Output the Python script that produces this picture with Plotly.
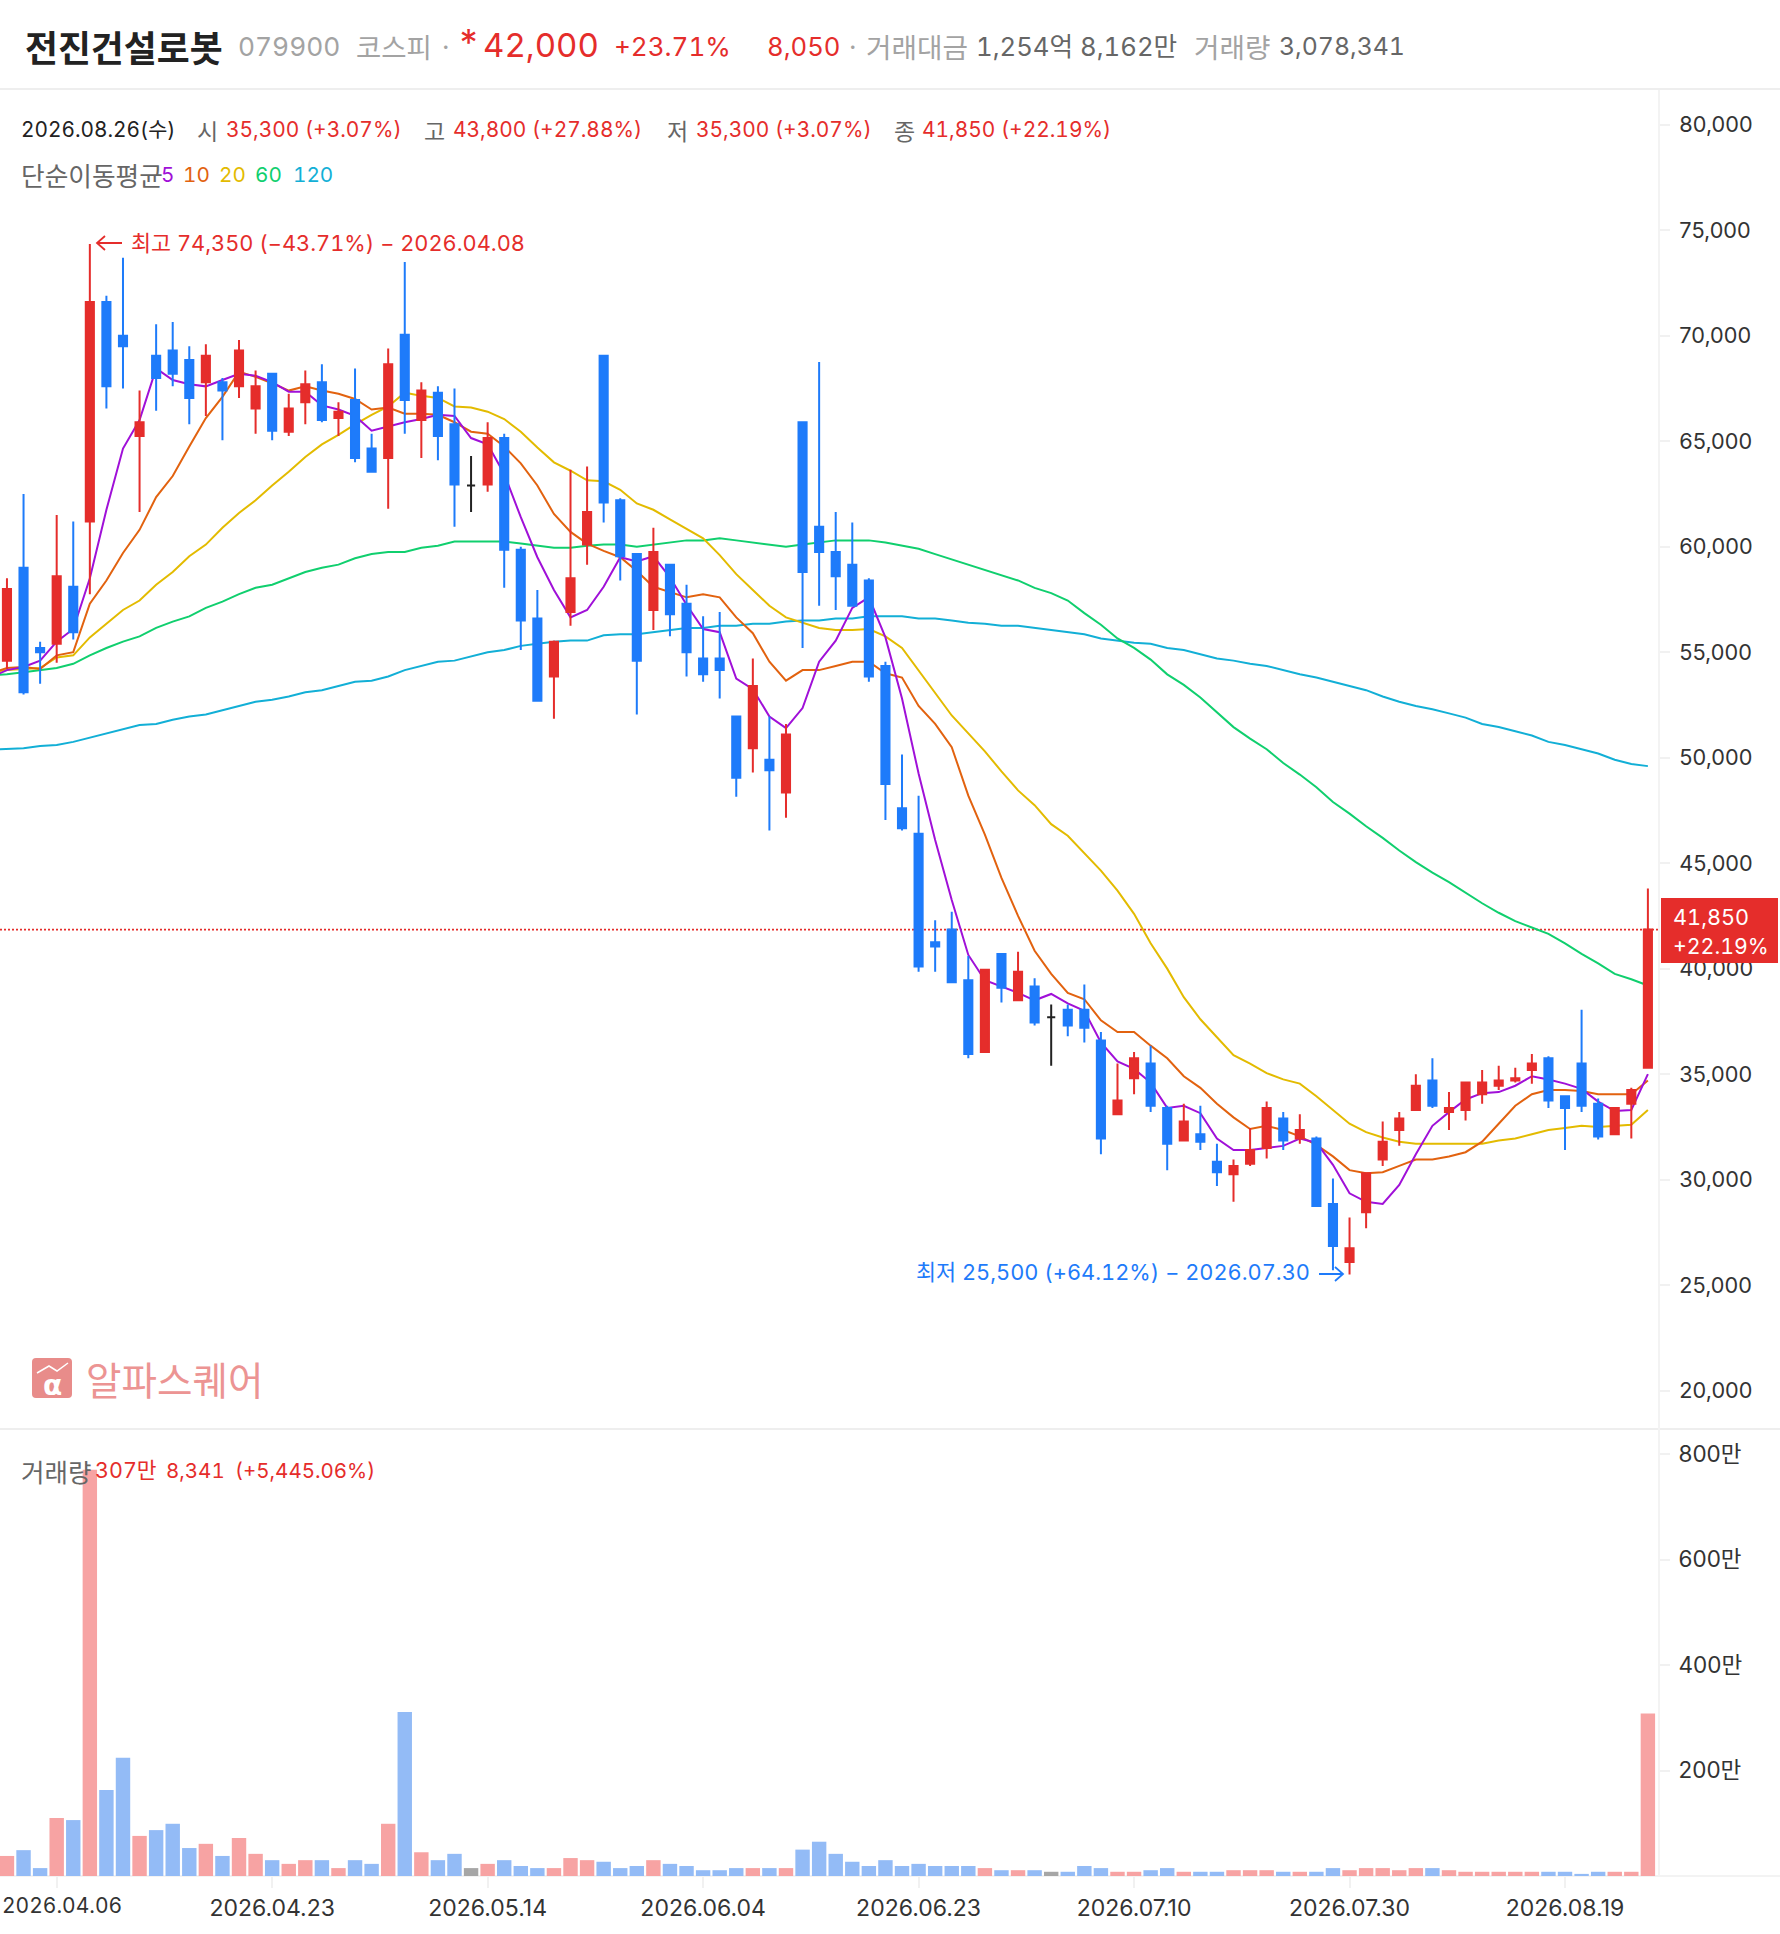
import plotly.graph_objects as go

dates = ["2026.03.31","2026.04.01","2026.04.02","2026.04.03","2026.04.06","2026.04.07","2026.04.08","2026.04.09","2026.04.10",
"2026.04.13","2026.04.14","2026.04.15","2026.04.16","2026.04.17","2026.04.20","2026.04.21","2026.04.22","2026.04.23","2026.04.24",
"2026.04.27","2026.04.28","2026.04.29","2026.04.30","2026.05.04","2026.05.06","2026.05.07","2026.05.08","2026.05.11","2026.05.12",
"2026.05.13","2026.05.14","2026.05.15","2026.05.18","2026.05.19","2026.05.20","2026.05.21","2026.05.22","2026.05.26","2026.05.27",
"2026.05.28","2026.05.29","2026.06.01","2026.06.02","2026.06.04","2026.06.05","2026.06.08","2026.06.09","2026.06.10","2026.06.11",
"2026.06.12","2026.06.15","2026.06.16","2026.06.17","2026.06.18","2026.06.19","2026.06.22","2026.06.23","2026.06.24","2026.06.25",
"2026.06.26","2026.06.29","2026.06.30","2026.07.01","2026.07.02","2026.07.03","2026.07.06","2026.07.07","2026.07.08","2026.07.09",
"2026.07.10","2026.07.13","2026.07.14","2026.07.15","2026.07.16","2026.07.20","2026.07.21","2026.07.22","2026.07.23","2026.07.24",
"2026.07.27","2026.07.28","2026.07.29","2026.07.30","2026.07.31","2026.08.03","2026.08.04","2026.08.05","2026.08.06","2026.08.07",
"2026.08.10","2026.08.11","2026.08.12","2026.08.13","2026.08.14","2026.08.18","2026.08.19","2026.08.20","2026.08.21","2026.08.24",
"2026.08.25","2026.08.26"]
candle_dates = dates[1:]

opens = [54600,59000,55200,55400,58100,61200,71600,70000,65250,69050,69300,68850,67800,67800,67600,66550,68200,65450,66850,67800,
66100,66950,64650,64200,70050,66000,67300,65800,62900,62950,65150,59850,56600,53850,56900,60100,69050,62200,59650,57000,
59150,57300,54700,54700,51950,50450,49900,48350,65900,60950,59750,59150,58400,54350,47600,46400,41250,41850,39450,36050,
40700,38500,39150,37700,38050,38050,36600,33100,34800,35500,33400,31850,32150,30850,30250,30750,31500,32900,31950,31950,
28850,26100,28450,30950,32350,33300,34700,33200,33300,34050,34450,34700,35200,35750,33950,35500,33600,32150,33600,35300]
highs = [58500,62500,55500,61500,61200,74350,71900,73700,67400,70550,70650,69500,69600,68000,69800,68350,68200,67250,68350,68650,
66850,68450,65350,69400,73500,67800,67600,67500,64300,65900,65350,60000,57950,55550,63650,63800,69050,62300,59650,60900,
59150,58200,56700,56900,51950,54700,51950,51600,65900,68750,61650,61150,58500,54550,50150,48200,42300,42700,40600,40000,
40700,40800,39550,38300,38300,39250,37000,35500,36050,36350,33500,33600,33500,31700,30950,32450,33700,33200,33100,32050,
30050,28200,30350,32750,33200,35000,35750,34150,34600,35200,35400,35300,35950,35850,33950,38050,33850,33400,34350,43800]
lows = [54200,53000,53500,54500,55600,57750,66550,67500,61650,66450,67600,65800,66200,65050,67050,65350,65050,65250,65800,65900,
65250,64000,63550,61800,65350,64200,64100,60950,61650,62600,58050,55100,52650,51850,56250,59150,61150,58400,52050,56050,
55750,53850,53600,52800,48150,49300,46550,47150,55200,57200,57000,57200,53600,47050,46550,39850,39850,39350,35750,36050,
38400,38500,37300,35400,36800,36500,31200,33100,34050,33200,30450,31850,31400,29700,28950,30650,31000,31400,31700,28750,
25700,25500,27700,30650,31600,33300,33400,32350,32800,33600,34250,34600,34550,33400,31400,33200,31900,32150,31950,35300]
closes = [58000,53100,55000,58600,55950,71600,67600,69500,65900,68000,68200,67050,69050,67400,69300,67600,65500,66550,67700,66000,
66400,64200,63550,68650,66950,67400,65250,62950,62900,65150,59850,56500,52700,55500,58500,61650,62100,59550,54600,59750,
56800,55000,53950,54150,49050,53400,49400,51100,58800,59750,58600,57200,53850,48750,46650,40100,41050,39350,35950,39950,
39100,39850,37450,37700,37300,37200,31950,33750,35750,33500,31700,32750,31800,30350,30650,31400,33400,31850,32350,28750,
26850,26750,30300,31800,32900,34450,33500,33400,34600,34600,34700,34800,35500,33750,33400,33500,32050,33400,34250,41850]

# moving averages: first value belongs to the session before the first candle (runs off the left edge)
ma5 = [53800,54150,54300,54600,55500,56100,58500,61750,64650,66000,68450,67900,67700,67600,67900,68200,68100,67800,67350,67350,66700,
66500,66200,65500,65700,65900,66050,66250,66200,65150,64850,63450,61400,59500,57950,56650,57000,58100,59500,59300,59550,
58550,57250,56100,55950,53750,53250,51950,51400,52350,54550,55550,57100,57600,55700,52800,49250,46100,43250,40650,39450,
39150,38850,38500,38800,38350,38000,36500,35600,35250,34600,33400,33500,33150,31950,31400,31400,31500,31600,31950,31750,
30700,29350,28950,28850,29750,31200,32550,33200,33800,34100,34150,34450,34900,34750,34550,34300,33700,33250,33300,35000]
ma10 = [54000,54250,54300,54200,54850,55000,57300,58400,59700,60800,62350,63350,64750,66100,67100,68300,68050,67750,67400,67600,67400,
67250,67000,66500,66600,66300,66300,66250,65900,65450,65350,64750,63950,62900,61550,60700,60150,59800,59500,58850,58100,
57850,57600,57750,57600,56650,55900,54550,53650,54150,54150,54350,54550,54550,54000,53800,52450,51600,50500,48200,46350,
44300,42500,40850,39750,38850,38550,37550,37000,37000,36350,35750,34900,34350,33600,32950,32400,32550,32350,32050,31650,
31100,30450,30300,30350,30650,30950,30950,31100,31300,31800,32650,33500,34050,34250,34250,34200,34050,34050,34050,34700]
ma20 = [54050,54150,54200,54250,54750,54850,55700,56350,57000,57450,58200,58800,59550,60100,60900,61600,62200,62900,63550,64250,64850,
65300,65800,66250,66650,67300,67150,67050,66650,66600,66400,66050,65450,64700,64000,63600,63150,63100,62700,62050,61750,
61300,60850,60400,59600,58700,57950,57200,56650,56400,56150,56050,56050,56100,55750,55200,54150,53050,52000,51150,50300,
49350,48450,47750,46850,46300,45450,44650,43700,42600,41200,40000,38650,37600,36750,35900,35500,35050,34750,34550,33950,
33300,32650,32250,32000,31800,31700,31700,31700,31700,31700,31850,31950,32150,32350,32450,32550,32500,32550,32600,33300]
ma60 = [53900,53950,54050,54150,54250,54450,54850,55200,55500,55750,56150,56450,56700,57100,57400,57750,58050,58200,58500,58800,59000,
59150,59450,59650,59750,59750,59950,60050,60250,60250,60250,60250,60150,60050,59950,59950,60050,60100,60100,60000,60100,
60200,60300,60300,60400,60300,60200,60100,60000,60100,60200,60300,60300,60300,60200,60050,59900,59650,59400,59150,58900,
58650,58400,58050,57800,57450,56850,56300,55650,55200,54650,53950,53450,52850,52150,51450,50900,50400,49750,49200,48600,
47900,47350,46750,46200,45600,45050,44550,44100,43600,43100,42650,42250,41950,41650,41200,40700,40250,39750,39500,39200]
ma120 = [50380,50400,50450,50550,50600,50750,50950,51150,51350,51550,51600,51800,51950,52050,52250,52450,52650,52750,52900,53100,53200,
53400,53600,53650,53850,54150,54350,54550,54600,54800,55000,55100,55300,55400,55500,55550,55550,55800,55850,55850,55950,
56050,56150,56150,56250,56250,56350,56350,56450,56500,56500,56600,56600,56700,56700,56700,56600,56600,56500,56400,56350,
56250,56250,56150,56050,55950,55850,55650,55550,55450,55400,55200,55100,54900,54700,54600,54450,54350,54150,53950,53800,
53600,53400,53200,52900,52650,52450,52300,52100,51900,51600,51450,51250,51050,50750,50600,50400,50200,49900,49700,49600]

volumes = [38,49,15,110,106,770,163,224,76,87,99,53,61,38,72,42,30,23,30,30,15,30,23,99,311,45,30,42,15,23,
30,19,15,15,34,30,27,15,19,30,23,19,11,11,15,15,15,15,50,65,42,27,19,30,19,23,19,19,19,15,
11,11,11,8,8,19,15,8,8,11,15,8,8,8,11,11,11,8,8,8,15,11,15,15,11,15,15,11,8,8,8,8,8,8,8,4,8,8,8,308]

price_ticks = [20000,25000,30000,35000,40000,45000,50000,55000,60000,65000,70000,75000,80000]
volume_ticks = [200,400,600,800]
volume_ticktext = ["200만","400만","600만","800만"]
date_ticks = ["2026.04.06","2026.04.23","2026.05.14","2026.06.04","2026.06.23","2026.07.10","2026.07.30","2026.08.19"]
date_ticktext = [""] + date_ticks[1:]  # the first label touches the page edge and is written as a left-anchored text

assert len(dates)==101 and all(len(a)==100 for a in (opens,highs,lows,closes,volumes)) and all(len(a)==101 for a in (ma5,ma10,ma20,ma60,ma120))

W, H = 1780, 1934
RED, BLUE = "#E52D2B", "#1E7BFA"
FONT = "Inter, 'Noto Sans CJK KR', sans-serif"
KR = "'Noto Sans CJK KR', sans-serif"
px = lambda x: x / W
py = lambda y: 1 - y / H

fig = go.Figure()
cols = {"5":"#A010D8","10":"#E2620F","20":"#E3BB00","60":"#10CF6E","120":"#12AFD6"}

def candle(idx, up, down):
    fig.add_trace(go.Candlestick(
        x=[candle_dates[i] for i in idx], open=[opens[i] for i in idx], high=[highs[i] for i in idx],
        low=[lows[i] for i in idx], close=[closes[i] for i in idx],
        increasing=dict(line=dict(color=up, width=2), fillcolor=up),
        decreasing=dict(line=dict(color=down, width=2), fillcolor=down),
        whiskerwidth=0, showlegend=False, xaxis="x", yaxis="y3", hoverinfo="skip"))

moving = [ma120, ma60, ma20, ma10, ma5]
for name, vals in zip(["120","60","20","10","5"], moving):
    fig.add_trace(go.Scatter(x=dates, y=vals, mode="lines", line=dict(color=cols[name], width=2),
                             showlegend=False, xaxis="x", yaxis="y", hoverinfo="skip"))
doji = [i for i in range(100) if opens[i] == closes[i]]
solid = [i for i in range(100) if opens[i] != closes[i]]
candle(solid, RED, BLUE)
candle(doji, "#222222", "#222222")
vol_colors = ["#F7A3A3" if c > o else "#93BBF6" if c < o else "#A6A6A6" for o, c in zip(opens, closes)]
fig.add_trace(go.Bar(x=candle_dates, y=volumes, marker=dict(color=vol_colors, line=dict(width=0)),
                     showlegend=False, xaxis="x2", yaxis="y2", hoverinfo="skip"))

notes, shapes = [], []
def txt(x, y, s, size, color, bold=False, family=FONT, anchor="left"):
    t = f"<span style=\"font-feature-settings:'tnum' 1\">{s}</span>"
    if bold:
        t = f"<b>{t}</b>"
    notes.append(dict(xref="paper", yref="paper", x=px(x), y=py(y), text=t, showarrow=False, xanchor=anchor, yanchor="middle",
                      font=dict(family=family, size=size, color=color), borderpad=0))
def hline(y, x0=0, x1=W, c="#EEEEEE", w=2):
    shapes.append(dict(type="line", xref="paper", yref="paper", x0=px(x0), x1=px(x1), y0=py(y), y1=py(y), line=dict(color=c, width=w), layer="below"))
def arrow(x0, x1, y, color):
    d = 8 if x1 > x0 else -8
    p = f"M{px(x0)},{py(y)} L{px(x1)},{py(y)} M{px(x1-d)},{py(y-7)} L{px(x1)},{py(y)} L{px(x1-d)},{py(y+7)}"
    shapes.append(dict(type="path", xref="paper", yref="paper", path=p, line=dict(color=color, width=1.8), layer="above"))

hline(89); hline(1429); hline(1876, c="#F3F3F3")
shapes.append(dict(type="line", xref="paper", yref="paper", x0=px(1659), x1=px(1659), y0=py(90), y1=py(1876), line=dict(color="#F3F3F3", width=2), layer="below"))
shapes.append(dict(type="line", xref="paper", yref="y", x0=0, x1=px(1659), y0=closes[-1], y1=closes[-1], line=dict(color=RED, width=1.6, dash="2px,2px"), layer="below"))
# last-price tag
shapes.append(dict(type="rect", xref="paper", yref="paper", x0=px(1661), x1=px(1778), y0=py(898), y1=py(963), fillcolor=RED, line=dict(width=0), layer="above"))
txt(1672, 916.5, "41,850", 21.7, "#FFFFFF")
txt(1672, 945.5, "+22.19%", 21.3, "#FFFFFF")

# header
txt(24, 46, "전진건설로봇", 35.8, "#222222", bold=True, family=KR)
txt(237, 46, "079900", 26.3, "#A3A3A3")
txt(355, 46, "코스피", 27.5, "#A3A3A3", family=KR)
txt(441, 46, "·", 26, "#A3A3A3")
txt(456, 42, "*", 36, RED)
txt(482, 45, "42,000", 33, RED)
txt(613, 46, "+23.71%", 26, RED)
txt(766, 46, "8,050", 25.7, RED)
txt(848, 46, "·", 26, "#A3A3A3")
txt(865, 46, "거래대금", 27.7, "#A3A3A3", family=KR)
txt(975, 46, "1,254억 8,162만", 25.7, "#666666")
txt(1193, 46, "거래량", 27.7, "#A3A3A3", family=KR)
txt(1278, 46, "3,078,341", 24.8, "#666666")
# OHLC row
txt(20, 130, "2026.08.26(수)", 20.8, "#222222")
for x, s in [(196,"시"),(423,"고"),(666,"저"),(893,"종")]:
    txt(x, 130, s, 23, "#666666", family=KR)
for x, s in [(225,"35,300 (+3.07%)"),(452,"43,800 (+27.88%)"),(695,"35,300 (+3.07%)"),(921,"41,850 (+22.19%)")]:
    txt(x, 130, s, 20.9, RED)
# MA legend
txt(20, 174, "단순이동평균", 25.7, "#666666", family=KR)
for x, n in [(159.5,"5"),(182,"10"),(218,"20"),(254,"60"),(292,"120")]:
    txt(x, 174, n, 20.7, cols[n])
# high / low
arrow(122, 97, 243, RED)
txt(130, 243, "최고 74,350 (−43.71%) − 2026.04.08", 21.8, RED)
txt(915, 1272, "최저 25,500 (+64.12%) − 2026.07.30", 21.8, BLUE)
arrow(1319, 1343, 1274, BLUE)
# volume legend
txt(20, 1470, "거래량", 25.5, "#666666", family=KR)
txt(94, 1470, "307만", 21.5, RED)
txt(165, 1470, "8,341", 20.5, RED)
txt(234, 1470, "(+5,445.06%)", 20.5, RED)
# first date label, anchored at the page edge
txt(0.5, 1905, date_ticks[0], 21, "#333333")
# watermark
L, T, R, B = 32, 1358, 72, 1398
shapes.append(dict(type="path", xref="paper", yref="paper",
    path=f"M{px(L+4)},{py(T)} L{px(R-4)},{py(T)} Q{px(R)},{py(T)} {px(R)},{py(T+4)} L{px(R)},{py(B-4)} Q{px(R)},{py(B)} {px(R-4)},{py(B)} L{px(L+4)},{py(B)} Q{px(L)},{py(B)} {px(L)},{py(B-4)} L{px(L)},{py(T+4)} Q{px(L)},{py(T)} {px(L+4)},{py(T)} Z",
    fillcolor="#E88C8A", line=dict(width=0), layer="above"))
shapes.append(dict(type="path", xref="paper", yref="paper",
    path=f"M{px(37)},{py(1373)} L{px(49)},{py(1366)} L{px(57)},{py(1371)} L{px(68)},{py(1363)}",
    line=dict(color="#FFFFFF", width=1.5), layer="above"))
txt(52, 1385, "α", 28, "#FFFFFF", bold=True, family="'DejaVu Sans', sans-serif", anchor="center")
txt(85, 1378, "알파스퀘어", 38.6, "#EC9493", family=KR)

DATE_FONT = dict(family=FONT, size=23, color="#333333")
PRICE_FONT = dict(family=FONT, size=21.7, color="#333333")
VOL_FONT = dict(family=FONT, size=22.5, color="#333333")
x_left = 0.58
x_right = x_left + 1659 / 16.575
PRICE_RANGE = [18180, 81600]
fig.update_layout(
    width=W, height=H, margin=dict(l=0, r=0, t=0, b=0), paper_bgcolor="#FFFFFF", plot_bgcolor="#FFFFFF",
    boxmode="overlay", bargap=0.13, showlegend=False, hovermode=False,
    xaxis=dict(domain=[0, px(1659)], type="category", categoryorder="array", categoryarray=dates, range=[x_left, x_right],
               rangeslider=dict(visible=False), showgrid=False, zeroline=False, showticklabels=False, ticks="", showline=False, anchor="y"),
    xaxis2=dict(domain=[0, px(1659)], type="category", categoryorder="array", categoryarray=dates, range=[x_left, x_right],
                rangeslider=dict(visible=False), showgrid=False, zeroline=False, tickmode="array", tickvals=date_ticks, ticktext=date_ticktext,
                tickangle=0, ticks="outside", ticklen=11, tickwidth=2, tickcolor="#F1F1F1", tickfont=DATE_FONT, showline=False, anchor="y2"),
    yaxis=dict(domain=[py(1429), py(91)], range=PRICE_RANGE, side="right", anchor="x", tickmode="array", tickvals=price_ticks,
               tickformat=",d", ticks="outside", ticklen=10, tickwidth=2, tickcolor="#F1F1F1", tickfont=PRICE_FONT, ticklabelstandoff=5, showgrid=False, zeroline=False, showline=False),
    yaxis3=dict(domain=[py(1429), py(91)], range=PRICE_RANGE, overlaying="y", side="right", anchor="x", showticklabels=False, ticks="", showgrid=False, zeroline=False, showline=False),
    yaxis2=dict(domain=[py(1876), py(1431)], range=[0, 843.6], side="right", anchor="x2", tickmode="array", tickvals=volume_ticks, ticktext=volume_ticktext,
                ticks="outside", ticklen=10, tickwidth=2, tickcolor="#F1F1F1", tickfont=VOL_FONT, ticklabelstandoff=4, showgrid=False, zeroline=False, showline=False),
    annotations=notes, shapes=shapes)

post = "document.body.style.margin='0';document.body.style.overflow='hidden';"
fig.write_html("out.html", config=dict(displayModeBar=False), post_script=post)
